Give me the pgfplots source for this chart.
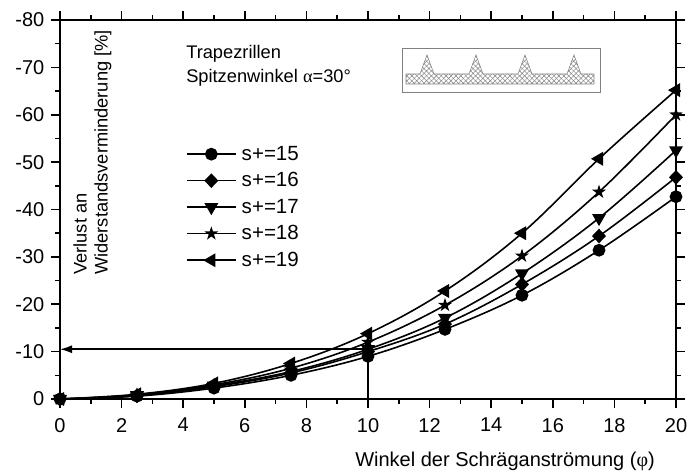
\documentclass[border=0pt]{standalone}
\usepackage{pgfplots}
\usepackage{fontspec}
\setmainfont{Liberation Sans}
\newfontfamily\grk{Liberation Serif}
\pgfplotsset{compat=1.18}
\usetikzlibrary{patterns,patterns.meta,arrows.meta}
\pgfdeclareplotmark{fstar}{%
  \pgfpathmoveto{\pgfqpointpolar{90}{1.3\pgfplotmarksize}}%
  \pgfpathlineto{\pgfqpointpolar{126}{.5\pgfplotmarksize}}%
  \pgfpathlineto{\pgfqpointpolar{162}{1.3\pgfplotmarksize}}%
  \pgfpathlineto{\pgfqpointpolar{198}{.5\pgfplotmarksize}}%
  \pgfpathlineto{\pgfqpointpolar{234}{1.3\pgfplotmarksize}}%
  \pgfpathlineto{\pgfqpointpolar{270}{.5\pgfplotmarksize}}%
  \pgfpathlineto{\pgfqpointpolar{306}{1.3\pgfplotmarksize}}%
  \pgfpathlineto{\pgfqpointpolar{342}{.5\pgfplotmarksize}}%
  \pgfpathlineto{\pgfqpointpolar{18}{1.3\pgfplotmarksize}}%
  \pgfpathlineto{\pgfqpointpolar{54}{.5\pgfplotmarksize}}%
  \pgfpathclose\pgfusepathqfill}
\newcommand{\legf}{\fontsize{15.4pt}{17pt}\selectfont}
\begin{document}
\begin{tikzpicture}[x=0.75pt,y=-0.75pt]
\path[use as bounding box] (-60,-399) rectangle (628,74);
\begin{axis}[
  at={(0,0)}, anchor=origin, scale only axis,
  width=462pt, height=284.25pt,
  xmin=0, xmax=20, ymin=-80, ymax=0, y dir=reverse,
  axis line style={line width=1.2pt},
  tick style={line width=1.2pt,black},
  tick align=outside, tick pos=both,
  xticklabel pos=lower, yticklabel pos=left,
  major tick length=6.75pt, minor tick length=3.4pt,
  xtick={0,2,...,20}, minor xtick={1,3,...,19},
  ytick={-80,-70,...,0}, minor ytick={-75,-65,...,-5},
  yticklabels={-80,-70,-60,-50,-40,-30,-20,-10,0},
  /pgf/number format/assume math mode=true,
  tick label style={font=\fontsize{15pt}{17pt}\selectfont},
  xticklabel style={yshift=-4pt},
  yticklabel style={xshift=-1.5pt},
  clip=false,
  every axis plot/.append style={smooth,tension=0.6,line width=1.2pt,black,mark size=4.2pt},
  legend cell align=left,
  legend style={at={(axis cs:4.1,-54)},anchor=north west,draw=none,fill=none,
    row sep=3.7pt,inner sep=0pt,nodes={font=\legf},/tikz/column 1/.style={column sep=2.2pt}},
  legend image code/.code={\draw[#1,mark repeat=2,mark phase=2] plot coordinates {(0pt,0pt)(18pt,0pt)(36pt,0pt)};},
]
\addplot[mark=*] coordinates {(0,0)(2.5,-0.6)(5,-2.3)(7.5,-5)(10,-9)(12.5,-14.7)(15,-21.9)(17.5,-31.4)(20,-42.7)};
\addlegendentry{s+=15}
\addplot[mark=diamond*,mark options={xscale=1.4,yscale=1.1}] coordinates {(0,0)(2.5,-0.7)(5,-2.6)(7.5,-5.5)(10,-10)(12.5,-15.8)(15,-24.2)(17.5,-34.4)(20,-46.8)};
\addlegendentry{s+=16}
\addplot[mark=triangle*,mark options={rotate=180,scale=1.15}] coordinates {(0,0)(2.5,-0.8)(5,-2.8)(7.5,-5.8)(10,-10.5)(12.5,-17.1)(15,-26.5)(17.5,-38.2)(20,-52.5)};
\addlegendentry{s+=17}
\addplot[mark=fstar] coordinates {(0,0)(2.5,-0.9)(5,-3)(7.5,-6.5)(10,-12)(12.5,-19.8)(15,-30.2)(17.5,-43.7)(20,-60)};
\addlegendentry{s+=18}
\addplot[mark=triangle*,mark options={rotate=90,scale=1.15}] coordinates {(0,0)(2.5,-1)(5,-3.3)(7.5,-7.5)(10,-13.8)(12.5,-22.8)(15,-35)(17.5,-50.7)(20,-65.2)};
\addlegendentry{s+=19}
\draw[line width=1.2pt,-{Latex[length=9pt,width=6pt]}] (axis cs:10,0) -- (axis cs:10,-10.5) -- (axis cs:0,-10.5);
\end{axis}
% annotations, coordinates in reference pixels relative to the axis origin
\begin{scope}[shift={(-60,-399)},every node/.style={inner sep=0pt,font=\fontsize{13.7pt}{16pt}\selectfont}]
\node[anchor=west] at (186,54) {Trapezrillen};
\node[anchor=west] at (186,78) {Spitzenwinkel {\grk α}=30°};
\node[rotate=90,anchor=west] at (80,275) {Verlust an};
\node[rotate=90,anchor=west] at (103,275) {Widerstandsverminderung [\%]};
\node[anchor=east,font=\fontsize{15pt}{17pt}\selectfont] at (655,461) {Winkel der Schräganströmung ({\grk φ})};
\draw[gray,line width=0.6pt] (402,48) rectangle (600,92);
\def\ribs{(406,84) -- (406,74) -- (420,74) -- (427,55) -- (434,74) -- (469,74) -- (476,55) -- (483,74)
  -- (518,74) -- (525,55) -- (532,74) -- (567,74) -- (574,55) -- (581,74) -- (594,74) -- (594,84) -- cycle}
\path[pattern={Lines[angle=45,distance=2.6pt,line width=0.35pt]},pattern color=gray] \ribs;
\path[pattern={Lines[angle=-45,distance=2.6pt,line width=0.35pt]},pattern color=gray] \ribs;
\draw[gray,line width=0.4pt] \ribs;
\end{scope}
\end{tikzpicture}
\end{document}
